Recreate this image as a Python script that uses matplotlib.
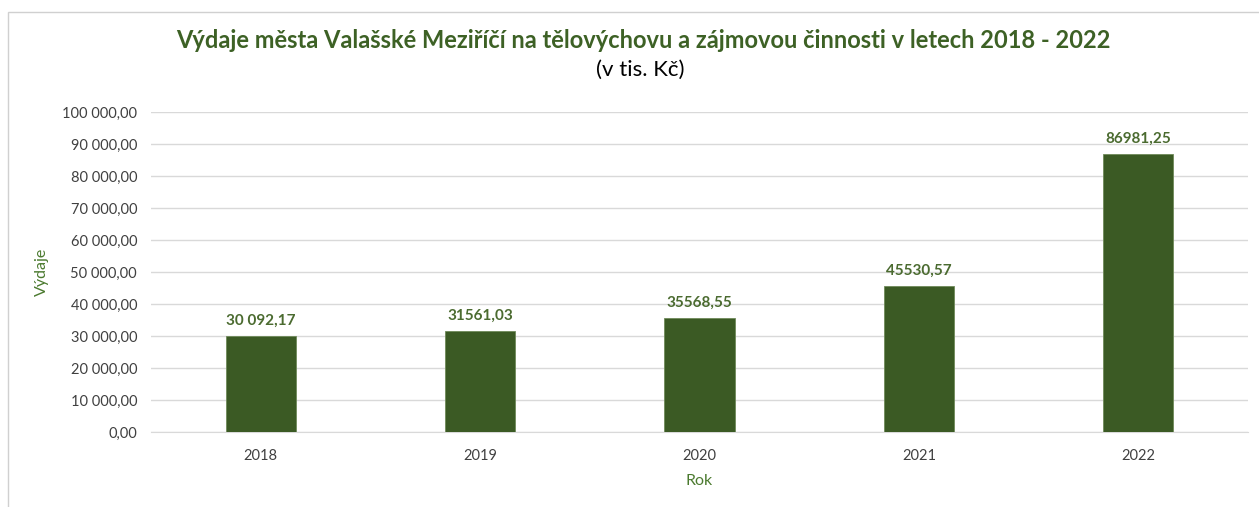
import matplotlib
matplotlib.use("agg")
import matplotlib.pyplot as plt
from matplotlib.patches import Rectangle
from matplotlib.ticker import FuncFormatter

# data
years = ["2018", "2019", "2020", "2021", "2022"]
expenses = [30092.17, 31561.03, 35568.55, 45530.57, 86981.25]
value_labels = ["30 092,17", "31561,03", "35568,55", "45530,57", "86981,25"]

GREEN = "#3b5a24"
LABEL_GREEN = "#4b6b30"
TEXT = "#404040"

plt.rcParams["font.family"] = ["Lato", "DejaVu Sans"]

W, H = 1259, 507
fig = plt.figure(figsize=(W / 100, H / 100), dpi=100)
ax = fig.add_axes([151 / W, 1 - 432 / H, (1248 - 151) / W, (432 - 112) / H])

# light chart frame (only top and left edges fall inside the picture)
fig.patches.append(Rectangle((8 / W, -0.2), 1.2, 1.2 - 12 / H, transform=fig.transFigure,
                             fill=False, edgecolor="#d0d0d0", linewidth=1.0))

x = range(len(years))
bars = ax.bar(x, expenses, width=0.32, color=GREEN, edgecolor="#6f8a5a",
              linewidth=0.6, zorder=3)
for b, lab in zip(bars, value_labels):
    ax.text(b.get_x() + b.get_width() / 2, b.get_height() + 2600, lab,
            ha="center", va="bottom", fontsize=11, fontweight="bold",
            color=LABEL_GREEN)

ax.set_xlim(-0.5, len(years) - 0.5)
ax.set_ylim(0, 100000)
ax.set_yticks(range(0, 100001, 10000))
ax.yaxis.set_major_formatter(FuncFormatter(
    lambda v, _: f"{v:,.2f}".replace(",", " ").replace(".", ",")))
ax.set_xticks(list(x))
ax.set_xticklabels(years)
ax.tick_params(axis="both", length=0, labelsize=10.5, labelcolor=TEXT)
ax.tick_params(axis="x", pad=12)
ax.tick_params(axis="y", pad=10)
ax.grid(axis="y", color="#d9d9d9", linewidth=1.0, zorder=0)
for s in ["top", "right", "left"]:
    ax.spines[s].set_visible(False)
ax.spines["bottom"].set_color("#d9d9d9")

fig.text(42 / W, 1 - 272 / H, "Výdaje", rotation=90, ha="center", va="center",
         fontsize=11.5, color="#4b7a2f")
fig.text(699 / W, 1 - 481 / H, "Rok", ha="center", va="center",
         fontsize=11.5, color="#4b7a2f")

fig.text(643 / W, 1 - 41 / H,
         "Výdaje města Valašské Meziříčí na tělovýchovu a zájmovou činnosti v letech 2018 - 2022",
         ha="center", va="center", fontsize=17, fontweight="bold", color="#3d6125")
fig.text(640 / W, 1 - 70 / H, "(v tis. Kč)", ha="center", va="center",
         fontsize=16, color="#000000")

fig.savefig("out.png", dpi=100)
